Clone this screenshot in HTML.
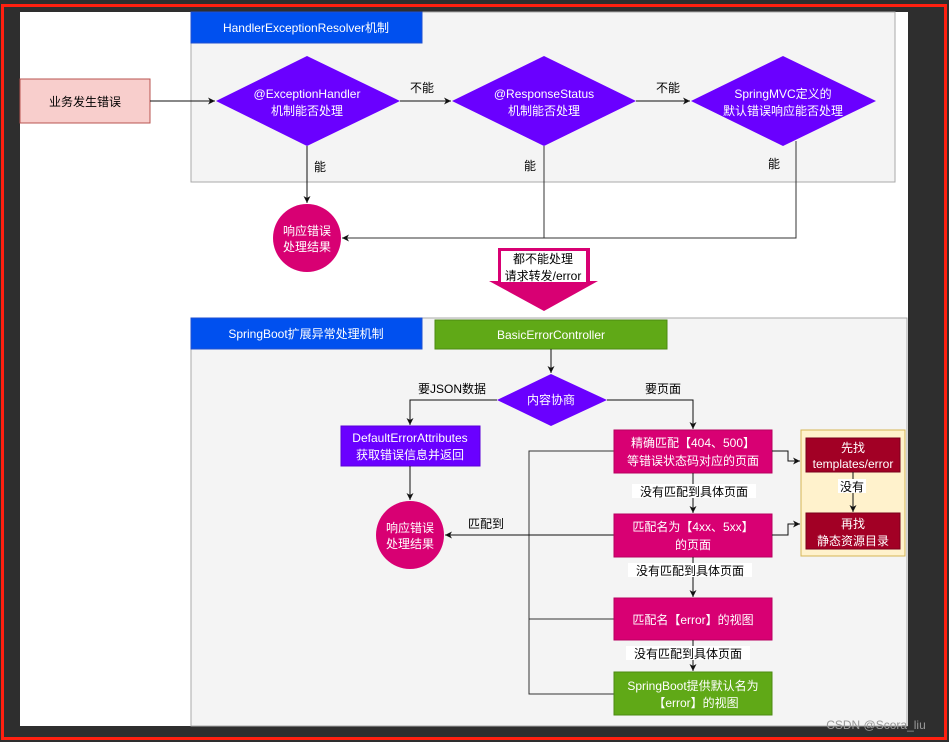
<!DOCTYPE html>
<html><head><meta charset="utf-8"><style>
html,body{margin:0;padding:0;background:#2e2e2e;}
svg{display:block;}
text{font-family:"Liberation Sans","Noto Sans CJK SC",sans-serif;font-size:12px;}
</style></head><body>
<svg width="949" height="742" viewBox="0 0 949 742" xmlns="http://www.w3.org/2000/svg">
<defs><marker id="a" markerWidth="8" markerHeight="8" refX="7" refY="4" orient="auto" markerUnits="userSpaceOnUse"><path d="M0,0.5 L7,4 L0,7.5 L2,4z" fill="#111"/></marker></defs>
<rect x="0" y="0" width="949" height="742" fill="#2e2e2e"/>
<rect x="20" y="12" width="888" height="714" fill="#fff"/>
<rect x="2.5" y="5.5" width="943" height="733" fill="none" stroke="#ff2010" stroke-width="3"/>
<!-- top group -->
<rect x="191" y="12" width="704" height="170" fill="#f4f4f4" stroke="#aaa"/>
<rect x="191" y="12" width="231" height="31" fill="#0050ef" stroke="#1f4fd0"/>
<text x="306" y="32" fill="#fff" text-anchor="middle">HandlerExceptionResolver机制</text>
<rect x="20" y="79" width="130" height="44" fill="#f8cecc" stroke="#b85450"/>
<text x="85" y="106" text-anchor="middle">业务发生错误</text>
<line x1="150" y1="101" x2="215" y2="101" stroke="#111" marker-end="url(#a)"/>
<polygon points="216,101 307,56 400,101 307,146" fill="#6a00ff"/>
<text x="307" y="98" fill="#fff" text-anchor="middle">@ExceptionHandler</text>
<text x="307" y="115" fill="#fff" text-anchor="middle">机制能否处理</text>
<line x1="400" y1="101" x2="451" y2="101" stroke="#111" marker-end="url(#a)"/>
<text x="422" y="92" text-anchor="middle">不能</text>
<polygon points="452,101 544,56 636,101 544,146" fill="#6a00ff"/>
<text x="544" y="98" fill="#fff" text-anchor="middle">@ResponseStatus</text>
<text x="544" y="115" fill="#fff" text-anchor="middle">机制能否处理</text>
<line x1="636" y1="101" x2="690" y2="101" stroke="#111" marker-end="url(#a)"/>
<text x="668" y="92" text-anchor="middle">不能</text>
<polygon points="691,101 783,56 876,101 783,146" fill="#6a00ff"/>
<text x="783" y="98" fill="#fff" text-anchor="middle">SpringMVC定义的</text>
<text x="783" y="115" fill="#fff" text-anchor="middle">默认错误响应能否处理</text>
<line x1="307" y1="146" x2="307" y2="203" stroke="#111" marker-end="url(#a)"/>
<text x="320" y="171" text-anchor="middle">能</text>
<polyline points="544,146 544,238 342,238" fill="none" stroke="#333" marker-end="url(#a)"/>
<text x="530" y="170" text-anchor="middle">能</text>
<polyline points="796,141 796,238 544,238" fill="none" stroke="#333"/>
<text x="774" y="168" text-anchor="middle">能</text>
<circle cx="307" cy="238" r="34" fill="#d80073"/>
<text x="307" y="235" fill="#fff" text-anchor="middle">响应错误</text>
<text x="307" y="251" fill="#fff" text-anchor="middle">处理结果</text>
<!-- big arrow -->
<polygon points="498,248 590,248 590,281 598,281 544,311 489,281 498,281" fill="#d80073"/>
<rect x="501" y="251" width="85" height="31" fill="#fff"/>
<text x="543" y="263" text-anchor="middle">都不能处理</text>
<text x="543" y="280" text-anchor="middle">请求转发/error</text>
<!-- bottom group -->
<rect x="191" y="318" width="716" height="408" fill="#f4f4f4" stroke="#aaa"/>
<rect x="191" y="318" width="231" height="31" fill="#0050ef" stroke="#1f4fd0"/>
<text x="306" y="338" fill="#fff" text-anchor="middle">SpringBoot扩展异常处理机制</text>
<rect x="435" y="320" width="232" height="29" fill="#60a917" stroke="#4d8a12"/>
<text x="551" y="339" fill="#fff" text-anchor="middle">BasicErrorController</text>
<line x1="551" y1="349" x2="551" y2="373" stroke="#111" marker-end="url(#a)"/>
<polygon points="497,400 551,374 607,400 551,426" fill="#6a00ff"/>
<text x="551" y="404" fill="#fff" text-anchor="middle">内容协商</text>
<polyline points="497,400 410,400 410,425" fill="none" stroke="#111" marker-end="url(#a)"/>
<text x="452" y="393" text-anchor="middle">要JSON数据</text>
<polyline points="607,400 693,400 693,429" fill="none" stroke="#111" marker-end="url(#a)"/>
<text x="663" y="393" text-anchor="middle">要页面</text>
<rect x="341" y="426" width="139" height="40" fill="#6a00ff" stroke="#5a00d8"/>
<text x="410" y="442" fill="#fff" text-anchor="middle">DefaultErrorAttributes</text>
<text x="410" y="459" fill="#fff" text-anchor="middle">获取错误信息并返回</text>
<line x1="410" y1="466" x2="410" y2="500" stroke="#111" marker-end="url(#a)"/>
<circle cx="410" cy="535" r="34" fill="#d80073"/>
<text x="410" y="532" fill="#fff" text-anchor="middle">响应错误</text>
<text x="410" y="548" fill="#fff" text-anchor="middle">处理结果</text>
<polyline points="614,451 529,451 529,694 614,694" fill="none" stroke="#333"/>
<line x1="529" y1="619" x2="614" y2="619" stroke="#333"/>
<line x1="614" y1="535" x2="445" y2="535" stroke="#111" marker-end="url(#a)"/>
<text x="486" y="528" text-anchor="middle">匹配到</text>
<rect x="614" y="430" width="158" height="43" fill="#d80073" stroke="#b8005f"/>
<text x="693" y="447" fill="#fff" text-anchor="middle">精确匹配【404、500】</text>
<text x="693" y="465" fill="#fff" text-anchor="middle">等错误状态码对应的页面</text>
<line x1="693" y1="473" x2="693" y2="513" stroke="#111" marker-end="url(#a)"/>
<rect x="632" y="484" width="124" height="14" fill="#fff"/>
<text x="694" y="496" text-anchor="middle">没有匹配到具体页面</text>
<rect x="614" y="514" width="158" height="43" fill="#d80073" stroke="#b8005f"/>
<text x="693" y="531" fill="#fff" text-anchor="middle">匹配名为【4xx、5xx】</text>
<text x="693" y="549" fill="#fff" text-anchor="middle">的页面</text>
<line x1="693" y1="557" x2="693" y2="597" stroke="#111" marker-end="url(#a)"/>
<rect x="628" y="563" width="124" height="14" fill="#fff"/>
<text x="690" y="575" text-anchor="middle">没有匹配到具体页面</text>
<rect x="614" y="598" width="158" height="42" fill="#d80073" stroke="#b8005f"/>
<text x="693" y="624" fill="#fff" text-anchor="middle">匹配名【error】的视图</text>
<line x1="693" y1="640" x2="693" y2="671" stroke="#111" marker-end="url(#a)"/>
<rect x="626" y="646" width="124" height="14" fill="#fff"/>
<text x="688" y="658" text-anchor="middle">没有匹配到具体页面</text>
<rect x="614" y="672" width="158" height="43" fill="#60a917" stroke="#4d8a12"/>
<text x="693" y="690" fill="#fff" text-anchor="middle">SpringBoot提供默认名为</text>
<text x="696" y="707" fill="#fff" text-anchor="middle">【error】的视图</text>
<polyline points="772,451 788,451 788,461 800,461" fill="none" stroke="#111" marker-end="url(#a)"/>
<polyline points="772,535 788,535 788,524 800,524" fill="none" stroke="#111" marker-end="url(#a)"/>
<rect x="801" y="430" width="104" height="126" fill="#fff2cc" stroke="#d6b656"/>
<rect x="806" y="438" width="94" height="34" fill="#a20025" stroke="#7a001c"/>
<text x="853" y="452" fill="#fff" text-anchor="middle">先找</text>
<text x="853" y="468" fill="#fff" text-anchor="middle">templates/error</text>
<line x1="853" y1="472" x2="853" y2="512" stroke="#111" marker-end="url(#a)"/>
<rect x="838" y="479" width="28" height="14" fill="#fff"/>
<text x="852" y="491" text-anchor="middle">没有</text>
<rect x="806" y="513" width="94" height="36" fill="#a20025" stroke="#7a001c"/>
<text x="853" y="528" fill="#fff" text-anchor="middle">再找</text>
<text x="853" y="545" fill="#fff" text-anchor="middle">静态资源目录</text>
<text x="876" y="729" fill="#999" text-anchor="middle" style="font-size:12px">CSDN @Scora_liu</text>
</svg>
</body></html>
